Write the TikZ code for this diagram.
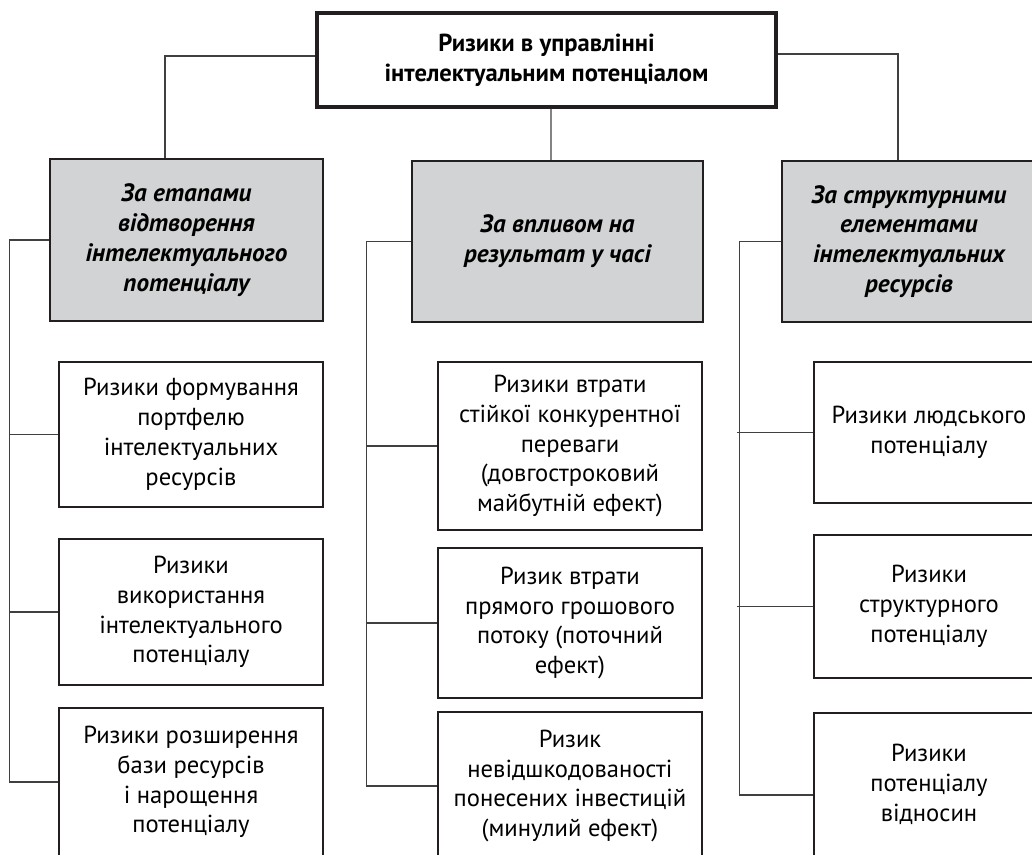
\documentclass[tikz,border=0pt]{standalone}
\usepackage{fontspec}
\setmainfont{PT Sans}
\usetikzlibrary{positioning}
\definecolor{boxgray}{HTML}{D1D3D4}
\definecolor{inkdark}{HTML}{231F20}
\tikzset{
  rootbox/.style={draw=inkdark, line width=2.2pt, align=center, font=\bfseries\fontsize{14}{17}\selectfont},
  groupbox/.style={draw=inkdark, fill=boxgray, line width=1.4pt, align=center, font=\bfseries\itshape\fontsize{14.3}{17}\selectfont},
  riskbox/.style={draw=inkdark, line width=1.4pt, align=center, font=\fontsize{14}{17}\selectfont},
  link/.style={draw=black!75, line width=0.6pt}
}
\begin{document}
\begin{tikzpicture}[x=0.02cm, y=-0.02cm]
  \useasboundingbox (0,0) rectangle (1032,855);
  \clip (0,0) rectangle (1032,855);
  %root
  \node[rootbox, minimum width=9.18cm, minimum height=1.88cm] (root) at (546.5,60)
    {Ризики в управлінні\\інтелектуальним потенціалом};
  %groups
  \node[groupbox, minimum width=5.46cm, minimum height=3.24cm] (stage) at (186.5,240)
    {За етапами\\відтворення\\інтелектуального\\потенціалу};
  \node[groupbox, minimum width=5.82cm, minimum height=3.22cm] (time) at (557.5,241.5)
    {За впливом на\\результат у часі};
  \node[groupbox, minimum width=5.08cm, minimum height=3.22cm] (struct) at (909,241.5)
    {За структурними\\елементами\\інтелектуальних\\ресурсів};
  %stage risks
  \node[riskbox, minimum width=5.28cm, minimum height=2.9cm] (form) at (191,434.5)
    {Ризики формування\\портфелю\\інтелектуальних\\ресурсів};
  \node[riskbox, minimum width=5.28cm, minimum height=2.92cm] (use) at (191,612)
    {Ризики\\використання\\інтелектуального\\потенціалу};
  \node[riskbox, minimum width=5.28cm, minimum height=2.96cm] (grow) at (191,782)
    {Ризики розширення\\бази ресурсів\\і нарощення\\потенціалу};
  %time risks
  \node[riskbox, minimum width=5.28cm, minimum height=3.36cm] (future) at (570,446)
    {Ризики втрати\\стійкої конкурентної\\переваги\\(довгостроковий\\майбутній ефект)};
  \node[riskbox, minimum width=5.28cm, minimum height=3.0cm] (current) at (570,623)
    {Ризик втрати\\прямого грошового\\потоку (поточний\\ефект)};
  \node[riskbox, minimum width=5.28cm, minimum height=2.96cm] (past) at (570,786)
    {Ризик\\невідшкодованості\\понесених інвестицій\\(минулий ефект)};
  %structure risks
  \node[riskbox, minimum width=4.6cm, minimum height=2.82cm] (human) at (929,432.5)
    {Ризики людського\\потенціалу};
  \node[riskbox, minimum width=4.6cm, minimum height=2.86cm] (structp) at (929,606.5)
    {Ризики\\структурного\\потенціалу};
  \node[riskbox, minimum width=4.6cm, minimum height=2.86cm] (relat) at (929,784.5)
    {Ризики\\потенціалу\\відносин};
  %links
  \draw[link] ([yshift=0.08cm]root.west) -| ([xshift=-0.43cm]stage.north);
  \draw[link] ([yshift=0.12cm]root.east) -| ([xshift=-0.22cm]struct.north);
  \draw[link] ([xshift=0.09cm]root.south) -- ([xshift=-0.13cm]time.north);
  \draw[link] (stage.west) -- ++(-39,0) |- (grow.west);
  \draw[link] (form.west) -- ++(-48,0);
  \draw[link] (use.west) -- ++(-48,0);
  \draw[link] (time.west) -- ++(-44,0) |- (past.west);
  \draw[link] (future.west) -- ++(-70,0);
  \draw[link] (current.west) -- ++(-70,0);
  \draw[link] (struct.west) -- ++(-41,0) |- ([yshift=-0.21cm]relat.west);
  \draw[link] (human.west) -- ++(-76,0);
  \draw[link] (structp.west) -- ++(-76,0);
\end{tikzpicture}
\end{document}
